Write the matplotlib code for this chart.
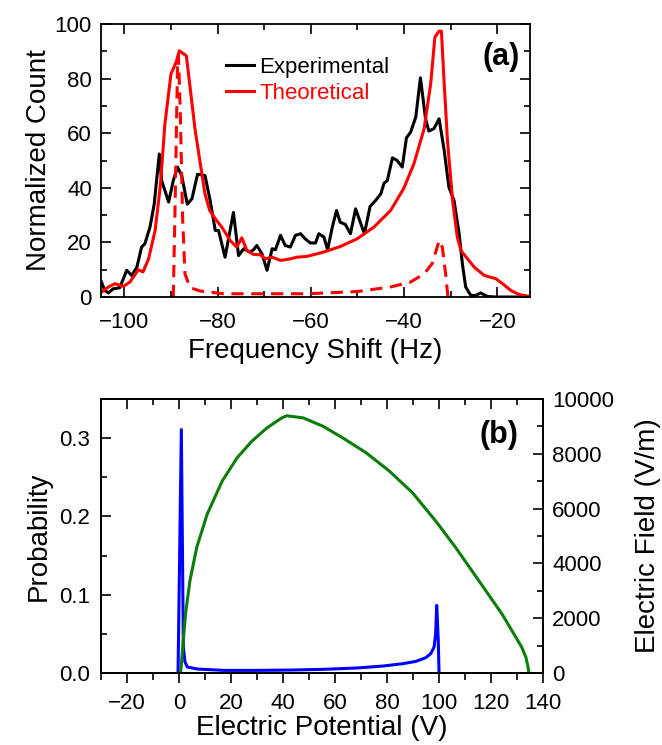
import matplotlib.pyplot as plt
from matplotlib.ticker import MultipleLocator

plt.rcParams['font.family'] = ['Liberation Sans', 'DejaVu Sans']

# panel (a): frequency shift histograms
exp_hz = [-104.9, -104.2, -103.4, -102.4, -101.0, -100.2, -99.5, -98.4, -97.3, -96.3,
          -95.6, -94.5, -93.6, -92.5, -92.0, -90.5, -89.5, -88.6, -87.7, -86.5,
          -85.5, -84.3, -82.7, -81.6, -80.5, -79.8, -78.4, -76.6, -75.5, -74.4,
          -73.1, -72.3, -71.6, -70.5, -69.4, -68.3, -67.6, -66.5, -65.5, -64.4,
          -63.3, -62.2, -61.2, -60.1, -59.0, -58.3, -57.2, -56.4, -55.4, -54.5,
          -53.7, -52.6, -51.5, -50.4, -49.4, -48.5, -47.3, -46.1, -45.0, -44.3,
          -43.6, -42.5, -41.5, -40.4, -39.5, -38.6, -37.5, -36.5, -35.4, -34.7,
          -33.6, -32.5, -31.4, -30.4, -29.3, -28.2, -27.5, -26.8, -25.7, -24.6,
          -23.6, -22.1, -20.3, -13.0]
exp_count = [5.5, 2.4, 1.5, 3.0, 3.4, 6.7, 9.8, 7.9, 11.0, 18.3,
             19.5, 25.6, 34.0, 52.4, 42.7, 34.8, 42.7, 47.6, 44.5, 34.0,
             36.0, 45.0, 44.5, 35.4, 24.4, 24.4, 14.6, 31.0, 15.2, 17.7,
             16.5, 17.3, 18.9, 15.9, 9.8, 17.7, 17.3, 22.6, 18.9, 18.3,
             22.6, 23.2, 21.3, 19.8, 19.8, 23.2, 22.0, 17.3, 25.6, 31.7,
             27.4, 26.6, 23.2, 32.3, 27.4, 23.2, 33.2, 35.4, 37.8, 41.7,
             42.7, 51.0, 50.0, 47.6, 58.3, 60.4, 65.9, 80.3, 65.3, 60.8,
             61.7, 65.3, 53.7, 40.3, 35.4, 23.2, 12.2, 3.7, 0.6, 0.6,
             1.5, 0.2, 0.0, 0.0]

theo_hz = [-104.9, -103.4, -102.0, -100.2, -98.8, -97.0, -96.0, -94.8, -93.4, -92.3,
           -91.3, -90.0, -88.9, -88.2, -87.7, -86.7, -85.9, -84.8, -83.7, -82.7,
           -81.7, -80.5, -79.1, -77.3, -75.9, -74.8, -73.7, -72.3, -70.8, -69.8,
           -68.3, -66.5, -64.4, -63.0, -60.8, -57.2, -53.7, -50.1, -46.5, -42.9,
           -40.1, -37.9, -35.7, -34.3, -33.4, -32.5, -32.0, -31.4, -30.7, -29.6,
           -28.6, -27.8, -26.4, -25.0, -22.8, -20.3, -18.9, -17.1, -15.3, -13.0]
theo_count = [1.8, 3.7, 4.9, 3.9, 5.5, 10.0, 9.2, 14.0, 24.4, 40.3,
              63.4, 81.7, 86.0, 90.2, 89.6, 88.4, 76.8, 61.0, 48.8, 37.8,
              31.7, 28.7, 25.6, 20.7, 18.3, 21.7, 17.0, 15.6, 15.5, 14.0,
              14.6, 13.4, 14.0, 14.6, 14.9, 16.5, 18.5, 21.3, 25.6, 31.7,
              39.7, 48.8, 61.7, 78.1, 95.2, 97.4, 97.4, 78.1, 57.3, 35.4,
              22.0, 17.0, 14.0, 11.0, 7.9, 6.7, 4.9, 2.4, 0.9, 0.2]

dash_hz = [-89.5, -89.1, -88.6, -88.4, -88.0, -87.5, -87.0, -85.9, -83.7, -78.7,
           -71.6, -60.8, -50.1, -42.9, -38.6, -35.7, -34.0, -32.9, -32.5, -31.8,
           -31.1, -30.6]
dash_count = [0.0, 35.0, 84.0, 88.4, 68.0, 29.0, 8.5, 3.4, 2.2, 1.2,
              1.2, 1.2, 2.0, 3.7, 5.5, 8.5, 12.2, 18.3, 20.7, 18.3,
              8.5, 0.0]

# panel (b): probability and field vs potential
prob_v = [-0.38, 0.89, 1.66, 2.3, 3.2, 7.0, 17.2, 29.9, 42.7, 55.4, 68.2, 78.3,
          86.0, 91.1, 94.9, 96.8, 98.1, 98.7, 99.1, 99.7, 100.0]
prob = [0.0, 0.311, 0.033, 0.014, 0.0077, 0.0051, 0.0034, 0.0034, 0.0038, 0.0047,
        0.0064, 0.0089, 0.0119, 0.0149, 0.0196, 0.0247, 0.0332, 0.050, 0.0864,
        0.042, 0.0]

field_v = [0.6, 2.5, 4.2, 6.8, 10.8, 16.6, 22.3, 28.0, 33.8, 39.5, 41.4, 47.8,
           55.4, 63.0, 72.0, 80.9, 89.8, 98.7, 106.4, 115.3, 124.2, 131.8, 133.4,
           134.1, 134.6]
field = [0, 2157, 3370, 4580, 5790, 7005, 7850, 8460, 8945, 9310, 9390, 9310,
         9005, 8580, 8035, 7370, 6580, 5550, 4580, 3370, 2157, 945, 580,
         280, 0]

fig = plt.figure(figsize=(6.62, 7.45), dpi=100)
ax1 = fig.add_axes([0.1526, 0.6013, 0.648, 0.3664])
ax2 = fig.add_axes([0.1526, 0.0966, 0.6677, 0.3678])

lw = 2.2
lab_fs = 20
tick_fs = 16
ax1.plot(exp_hz, exp_count, color='black', lw=lw, label='Experimental')
ax1.plot(theo_hz, theo_count, color='red', lw=lw, label='Theoretical')
ax1.plot(dash_hz, dash_count, color='red', lw=lw, ls=(0, (4, 2.5)))
ax1.set_xlim(-105, -13)
ax1.set_ylim(0, 100)
ax1.xaxis.set_major_locator(MultipleLocator(20))
ax1.xaxis.set_minor_locator(MultipleLocator(10))
ax1.yaxis.set_major_locator(MultipleLocator(20))
ax1.yaxis.set_minor_locator(MultipleLocator(10))
ax1.set_xlabel('Frequency Shift (Hz)', fontsize=lab_fs, labelpad=4)
ax1.set_ylabel('Normalized Count', fontsize=lab_fs, labelpad=2)
ax1.legend(loc='upper left', bbox_to_anchor=(0.244, 0.952), frameon=False,
           fontsize=16, handlelength=1.27, handletextpad=0.25, labelspacing=0.2,
           labelcolor='linecolor')
ax1.text(0.975, 0.88, '(a)', transform=ax1.transAxes, ha='right', va='center',
         fontsize=22, fontweight='bold')

ax2.plot(prob_v, prob, color='blue', lw=lw)
ax2.set_xlim(-30, 140)
ax2.set_ylim(0, 0.35)
ax2.xaxis.set_major_locator(MultipleLocator(20))
ax2.xaxis.set_minor_locator(MultipleLocator(10))
ax2.yaxis.set_major_locator(MultipleLocator(0.1))
ax2.yaxis.set_minor_locator(MultipleLocator(0.05))
ax2.yaxis.set_major_formatter(plt.FormatStrFormatter('%.1f'))
ax2.set_xlabel('Electric Potential (V)', fontsize=lab_fs, labelpad=0.5)
ax2.set_ylabel('Probability', fontsize=lab_fs, labelpad=5)
ax2.text(0.945, 0.87, '(b)', transform=ax2.transAxes, ha='right', va='center',
         fontsize=22, fontweight='bold')

ax3 = ax2.twinx()
ax3.plot(field_v, field, color='#0a7d0a', lw=lw)
ax3.set_ylim(0, 10000)
ax3.yaxis.set_major_locator(MultipleLocator(2000))
ax3.yaxis.set_minor_locator(MultipleLocator(1000))
ax3.set_ylabel('Electric Field (V/m)', fontsize=lab_fs, labelpad=15)

# top ticks of panel (b) point inward, bottom ones outward
top2 = ax2.secondary_xaxis('top')
top2.xaxis.set_major_locator(MultipleLocator(20))
top2.xaxis.set_minor_locator(MultipleLocator(10))
top2.tick_params(which='both', direction='in', labeltop=False, width=1.2)
top2.tick_params(which='major', length=7)
top2.tick_params(which='minor', length=4)

for ax in (ax1, ax2, ax3):
    for s in ax.spines.values():
        s.set_linewidth(1.3)
    ax.tick_params(which='both', direction='in', labelsize=tick_fs, width=1.2)
    ax.tick_params(which='major', length=7)
    ax.tick_params(which='minor', length=4)

ax1.tick_params(which='both', top=True, right=True)
ax1.tick_params(axis='x', pad=10.5)
ax1.tick_params(axis='y', pad=6.5)
ax2.tick_params(axis='x', which='both', direction='out', top=False, pad=7.5)
ax2.tick_params(axis='x', which='minor', length=5)
ax2.tick_params(axis='y', pad=8)
ax3.tick_params(which='both', left=False)
ax3.tick_params(axis='y', pad=6.5)
top2.spines['top'].set_linewidth(1.3)

fig.savefig('out.png', dpi=100)
